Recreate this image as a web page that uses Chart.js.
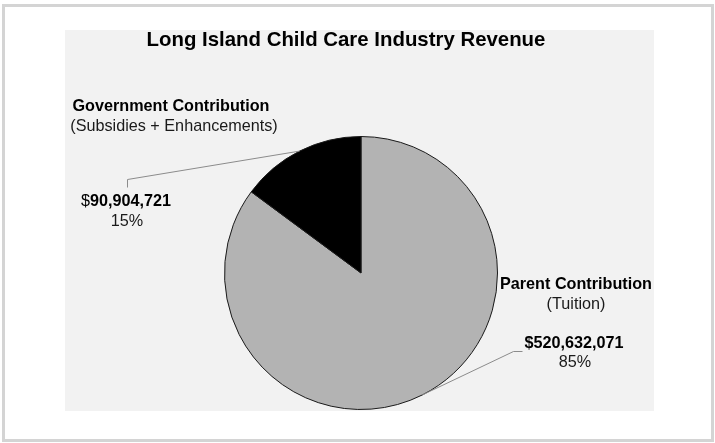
<!DOCTYPE html>
<html>
<head>
<meta charset="utf-8">
<title>Long Island Child Care Industry Revenue</title>
<script src="https://cdn.jsdelivr.net/npm/chart.js@4/dist/chart.umd.min.js"></script>
<style>
  html, body { margin: 0; padding: 0; background: #ffffff; }
  #wrap { width: 715px; height: 443px; }
</style>
</head>
<body>
<div id="wrap"><canvas id="revenueChart" width="715" height="443"></canvas></div>
<script>
// Revenue split by source
const chartTitle = 'Long Island Child Care Industry Revenue';
const sources = ['Parent Contribution', 'Government Contribution'];
const sourceNotes = ['(Tuition)', '(Subsidies + Enhancements)'];
const revenue = [520632071, 90904721];
const sliceColors = ['#b3b3b3', '#000000'];

const FONT = '"Liberation Sans", Arial, Helvetica, sans-serif';
const LABEL_PX = 16.2;

// Label blocks and leader-line elbows, one per slice
const labelSpots = [
  { nameX: 576, nameY: 284.5, valueX: 574, valueY: 343.5, elbow: [[522, 351], [513, 351]] },
  { nameX: 171, nameY: 106.5, valueX: 126, valueY: 202, elbow: [[127, 187], [127, 179]] }
];

function money(v) {
  return v.toLocaleString('en-US');
}

// Frame and grey plot background
const backdrop = {
  id: 'backdrop',
  beforeDraw(chart) {
    const ctx = chart.ctx;
    ctx.save();
    ctx.fillStyle = '#ffffff';
    ctx.fillRect(0, 0, chart.width, chart.height);
    ctx.strokeStyle = '#d4d4d4';
    ctx.lineWidth = 3;
    ctx.strokeRect(3.5, 5.5, 709, 435);
    ctx.fillStyle = '#f2f2f2';
    ctx.fillRect(65, 30, 589, 381);
    ctx.fillStyle = '#000000';
    ctx.font = 'bold 20.4px ' + FONT;
    ctx.textAlign = 'center';
    ctx.textBaseline = 'alphabetic';
    ctx.fillText(chartTitle, 346, 46);
    ctx.restore();
  }
};

// Category names, values, percentages and leader lines
const sliceLabels = {
  id: 'sliceLabels',
  afterDatasetsDraw(chart) {
    const ctx = chart.ctx;
    const meta = chart.getDatasetMeta(0);
    const total = revenue.reduce((a, b) => a + b, 0);
    const bold = 'bold ' + LABEL_PX + 'px ' + FONT;
    const plain = LABEL_PX + 'px ' + FONT;
    ctx.save();
    meta.data.forEach((arc, i) => {
      const spot = labelSpots[i];
      const p = arc.getProps(['x', 'y', 'startAngle', 'endAngle', 'outerRadius'], true);
      const mid = (p.startAngle + p.endAngle) / 2;
      const ax = p.x + Math.cos(mid) * p.outerRadius;
      const ay = p.y + Math.sin(mid) * p.outerRadius;

      ctx.strokeStyle = '#8c8c8c';
      ctx.lineWidth = 1;
      ctx.beginPath();
      ctx.moveTo(spot.elbow[0][0] + 0.5, spot.elbow[0][1] + 0.5);
      ctx.lineTo(spot.elbow[1][0] + 0.5, spot.elbow[1][1] + 0.5);
      ctx.lineTo(ax, ay);
      ctx.stroke();

      ctx.fillStyle = '#000000';
      ctx.textAlign = 'center';
      ctx.textBaseline = 'middle';
      ctx.font = bold;
      ctx.fillText(sources[i], spot.nameX, spot.nameY);
      ctx.fillStyle = '#1a1a1a';
      ctx.font = plain;
      ctx.fillText(sourceNotes[i], spot.nameX + (i === 1 ? 3 : 0), spot.nameY + 20);

      // value line: government shows a plain dollar sign before bold digits
      const digits = money(revenue[i]);
      ctx.fillStyle = '#000000';
      if (i === 1) {
        ctx.font = plain;
        const dw = ctx.measureText('$').width;
        ctx.font = bold;
        const nw = ctx.measureText(digits).width;
        const x0 = spot.valueX - (dw + nw) / 2;
        ctx.textAlign = 'left';
        ctx.font = plain;
        ctx.fillText('$', x0, spot.valueY);
        ctx.font = bold;
        ctx.fillText(digits, x0 + dw, spot.valueY);
      } else {
        ctx.font = bold;
        ctx.fillText('$' + digits, spot.valueX, spot.valueY);
      }
      ctx.textAlign = 'center';
      ctx.fillStyle = '#1a1a1a';
      ctx.font = plain;
      ctx.fillText(Math.round(revenue[i] / total * 100) + '%', spot.valueX + 1, spot.valueY + 19.5);
    });
    ctx.restore();
  }
};

new Chart(document.getElementById('revenueChart'), {
  type: 'pie',
  data: {
    labels: sources,
    datasets: [{
      data: revenue,
      backgroundColor: sliceColors,
      borderColor: '#1a1a1a',
      borderWidth: 1
    }]
  },
  options: {
    responsive: false,
    animation: false,
    layout: { padding: { top: 136, bottom: 33, left: 224, right: 217 } },
    plugins: {
      legend: { display: false },
      title: { display: false },
      tooltip: { enabled: false }
    }
  },
  plugins: [backdrop, sliceLabels]
});
</script>
</body>
</html>
